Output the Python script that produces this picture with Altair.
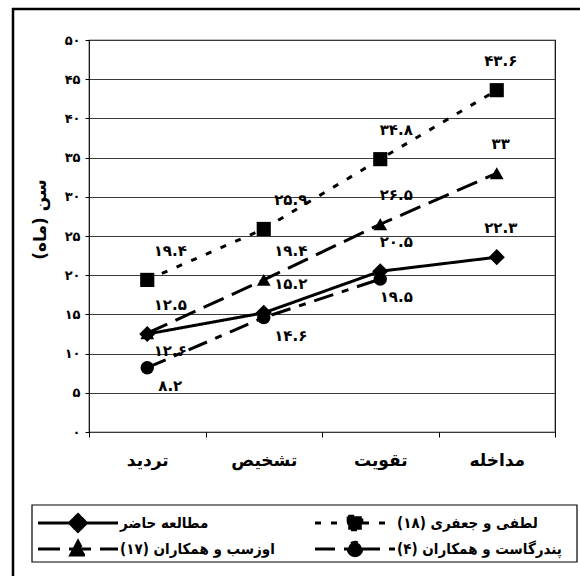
import altair as alt
import pandas as pd

# ---------------- data ----------------
stages = ["تردید", "تشخیص", "تقویت", "مداخله"]

series_names = [
    "مطالعه حاضر",
    "لطفی و جعفری (۱۸)",
    "اوزسب و همکاران (۱۷)",
    "پندرگاست و همکاران (۴)",
]
present = [12.5, 15.2, 20.5, 22.3]
lotfi = [19.4, 25.9, 34.8, 43.6]
ozsb = [12.6, 19.4, 26.5, 33]
pendergast = [8.2, 14.6, 19.5, None]

# side of the marker on which each value label is printed
present_side = ["above", "above", "above", "above"]
lotfi_side = ["above", "above", "above", "above"]
ozsb_side = ["below", "above", "above", "above"]
pendergast_side = ["below", "below", "below", None]

y_ticks = [0, 5, 10, 15, 20, 25, 30, 35, 40, 45, 50]

FA = str.maketrans("0123456789", "۰۱۲۳۴۵۶۷۸۹")


def fa(v):
    return f"{v:g}".translate(FA)


y_tick_labels = [fa(v) for v in y_ticks]

values_by_series = [present, lotfi, ozsb, pendergast]
sides_by_series = [present_side, lotfi_side, ozsb_side, pendergast_side]

rows = []
for name, vals, sides in zip(series_names, values_by_series, sides_by_series):
    for st, v, sd in zip(stages, vals, sides):
        if v is None:
            continue
        rows.append({"series": name, "stage": st, "value": v, "label": fa(v), "side": sd})
df = pd.DataFrame(rows)

# legend grid: two entries per row, in the order of series_names
legend_df = pd.DataFrame(
    {
        "series": series_names,
        "col": [i % 2 for i in range(len(series_names))],
        "row": [i // 2 for i in range(len(series_names))],
    }
)

# ---------------- styles ----------------
FONT = "DejaVu Sans"
FONT_NARROW = "DejaVu Sans Condensed, DejaVu Sans"
W, H = 466, 392

dashes = {
    series_names[0]: [1, 0],
    series_names[1]: [6, 10],
    series_names[2]: [22, 9],
    series_names[3]: [20, 9, 7, 9],
}
shapes = {
    series_names[0]: "diamond",
    series_names[1]: "square",
    series_names[2]: "triangle-up",
    series_names[3]: "circle",
}
sizes = {
    series_names[0]: 260,
    series_names[1]: 200,
    series_names[2]: 190,
    series_names[3]: 180,
}
# horizontal shift of value labels, per category
label_dx = dict(zip(stages, [23, 27, 16, 4]))
side_dy = {"above": -29, "below": 18}

# legend symbol = line segment + marker (unit square coordinates, scaled by size)
legend_paths = [
    "M-1,0L1,0M-0.21,0L0,-0.21L0.21,0L0,0.21Z",
    "M-1,0L1,0M-0.17,-0.17L0.17,-0.17L0.17,0.17L-0.17,0.17Z",
    "M-1,0L1,0M-0.18,0.15L0,-0.19L0.18,0.15Z",
    "M-1,0L1,0M-0.17,0A0.17,0.17,0,1,0,0.17,0A0.17,0.17,0,1,0,-0.17,0Z",
]

y_label_expr = "[" + ",".join(f"'{t}'" for t in y_tick_labels) + "][round(datum.value / 5)]"

x_enc = alt.X(
    "stage:N",
    sort=stages,
    bandPosition=0.5,
    scale=alt.Scale(type="band", domain=stages, paddingInner=0, paddingOuter=0),
    axis=alt.Axis(
        title=None,
        tickBand="extent",
        labelFont=FONT,
        labelFontSize=17,
        labelFontWeight="bold",
        labelColor="black",
        labelPadding=15,
        labelAngle=0,
        tickSize=5,
        tickColor="black",
        domain=False,
        grid=False,
    ),
)
y_enc = alt.Y(
    "value:Q",
    scale=alt.Scale(domain=[0, 50], nice=False, zero=True),
    axis=alt.Axis(
        values=y_ticks,
        labelExpr=y_label_expr,
        labelFont=FONT,
        labelFontSize=13,
        labelFontWeight="bold",
        labelColor="black",
        labelPadding=5,
        tickSize=4,
        tickColor="black",
        domain=False,
        grid=True,
        gridColor="#3a3a3a",
        gridWidth=1,
        title="سن (ماه)\u200f",
        titleFont=FONT,
        titleFontSize=17,
        titleFontWeight="bold",
        titleColor="black",
        titleX=-49,
        titleY=179,
        titleAlign="center",
        titleBaseline="middle",
    ),
)

main_layers = []

# outer page frame (decoration)
frame = alt.Data(values=[{}])
main_layers.append(
    alt.Chart(frame).mark_rule(color="black", strokeWidth=2.5).encode(
        x=alt.value(-76), y=alt.value(-32), y2=alt.value(540)
    )
)
main_layers.append(
    alt.Chart(frame).mark_rule(color="black", strokeWidth=2.5).encode(
        x=alt.value(-77), x2=alt.value(495), y=alt.value(-31)
    )
)

for name in series_names:
    sub = alt.Chart(df).transform_filter(alt.datum.series == name)
    main_layers.append(
        sub.mark_line(color="black", strokeWidth=3, strokeDash=dashes[name]).encode(
            x=x_enc, y=y_enc
        )
    )
for name in series_names:
    sub = alt.Chart(df).transform_filter(alt.datum.series == name)
    main_layers.append(
        sub.mark_point(
            shape=shapes[name], filled=True, color="black", opacity=1, size=sizes[name]
        ).encode(x=x_enc, y=y_enc)
    )

text_style = dict(font=FONT, fontSize=15, fontWeight="bold", color="black", baseline="middle", align="center")
for st in stages:
    for side, dy in side_dy.items():
        main_layers.append(
            alt.Chart(df)
            .transform_filter((alt.datum.side == side) & (alt.datum.stage == st))
            .mark_text(dx=label_dx[st], dy=dy, **text_style)
            .encode(x=x_enc, y=y_enc, text="label:N")
        )
main = alt.layer(*main_layers)

# ---------------- legend (drawn with its own point scales) ----------------
lx = alt.X("col:O", scale=alt.Scale(type="point", domain=[0, 1], range=[-11, 266], padding=0), axis=None)
ly = alt.Y("row:O", scale=alt.Scale(type="point", domain=[0, 1], range=[483, 509], padding=0), axis=None)

legend_box = alt.Chart(alt.Data(values=[{}])).mark_rect(
    fill="white", stroke="black", strokeWidth=1.2
).encode(x=alt.value(-57), x2=alt.value(488), y=alt.value(465), y2=alt.value(522))

legend_symbols = (
    alt.Chart(legend_df)
    .mark_point(filled=True, color="black", stroke="black", strokeWidth=3, opacity=1, size=6400)
    .encode(
        x=lx,
        y=ly,
        shape=alt.Shape(
            "series:N", scale=alt.Scale(domain=series_names, range=legend_paths), legend=None
        ),
        strokeDash=alt.StrokeDash(
            "series:N",
            scale=alt.Scale(domain=series_names, range=[dashes[n] for n in series_names]),
            legend=None,
        ),
    )
)
legend_labels = (
    alt.Chart(legend_df)
    .transform_calculate(display="'\u200e' + datum.series + '\u200f'")
    .mark_text(font=FONT_NARROW, fontSize=15, fontWeight="bold", color="black", align="left", baseline="middle", dx=42)
    .encode(x=lx, y=ly, text="display:N")
)
legend = alt.layer(legend_box, legend_symbols, legend_labels)

chart = (
    alt.layer(main, legend)
    .resolve_scale(x="independent", y="independent")
    .properties(
        width=W,
        height=H,
        padding={"left": 89, "top": 40, "right": 25, "bottom": 144},
        autosize=alt.AutoSizeParams(type="none"),
        background="white",
    )
    .configure_view(stroke="black", strokeWidth=1.2)
)

chart.save("out.html", embed_options={"renderer": "svg", "actions": False})
